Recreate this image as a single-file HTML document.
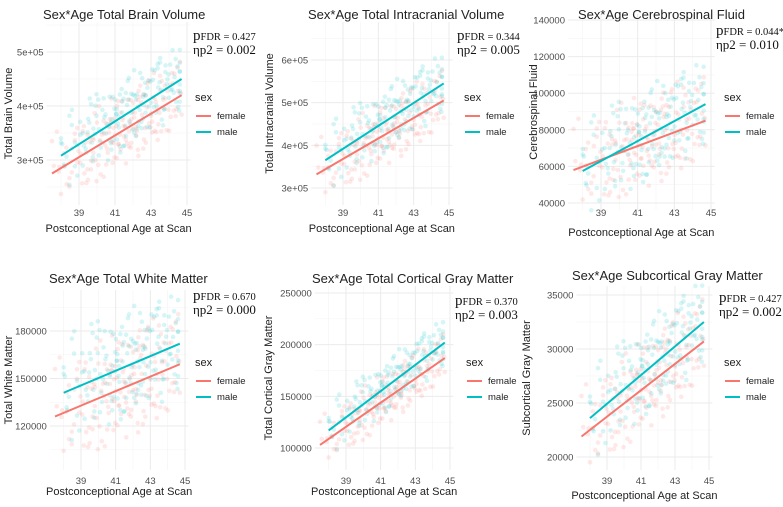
<!DOCTYPE html>
<html><head><meta charset="utf-8"><style>
body{margin:0;background:#fff;width:783px;height:502px;overflow:hidden}
svg text{font-family:"Liberation Sans",sans-serif}
.st{font-family:"Liberation Serif",serif}
</style></head><body>
<svg id="c" width="783" height="502"></svg>
<script>
const panelTitles=["Sex*Age Total Brain Volume","Sex*Age Total Intracranial Volume","Sex*Age Cerebrospinal Fluid","Sex*Age Total White Matter","Sex*Age Total Cortical Gray Matter","Sex*Age Subcortical Gray Matter"];
const yTitles=["Total Brain Volume","Total Intracranial Volume","Cerebrospinal Fluid","Total White Matter","Total Cortical Gray Matter","Subcortical Gray Matter"];
const yTickVals=[[300000,400000,500000],[300000,400000,500000,600000],[40000,60000,80000,100000,120000,140000],[120000,150000,180000],[100000,150000,200000,250000],[20000,25000,30000,35000]];
const yTickLabels=[["3e+05","4e+05","5e+05"],["3e+05","4e+05","5e+05","6e+05"],["40000","60000","80000","100000","120000","140000"],["120000","150000","180000"],["100000","150000","200000","250000"],["20000","25000","30000","35000"]];
const xTickVals=[39,41,43,45];
const femaleStart=[275000,332000,58000,126000,103000,21900];
const femaleEnd=[420000,505000,85000,159000,187000,30700];
const maleStart=[308000,365000,57500,141000,117000,23600];
const maleEnd=[450000,545000,94000,172000,202000,32500];
const pFDR=["0.427","0.344","0.044*","0.670","0.370","0.427"];
const eta=["0.002","0.005","0.010","0.000","0.003","0.002"];
const spread=[40000,45000,15000,20000,15000,2500];
// shared residual pattern (age, standardized residual)
const ptAges=[37.6,38.0,38.3,38.6,38.9,39.1,39.3,39.6,39.8,40.0,40.2,40.4,40.6,40.8,41.0,41.1,41.3,41.5,41.7,41.9,42.1,42.3,42.5,42.7,42.9,43.1,43.3,43.5,43.7,43.9,44.1,44.3,44.5,39.5,40.5,41.6,42.4,43.2,40.9,42.0];
const ptRes=[0.3,-1.2,0.8,-0.5,1.4,0.1,-0.9,0.6,-0.2,1.1,-1.4,0.4,-0.6,1.8,0.0,-1.1,0.9,-0.3,1.3,-0.8,0.5,-1.6,0.2,1.0,-0.4,0.7,-1.0,1.5,-0.1,0.6,-0.7,1.2,0.3,-1.3,0.8,-0.5,1.6,-0.9,0.4,-0.2];
const L=[
 {x39:79,x45:187,v1:300000,p1:160,v2:500000,p2:52,top:22,bot:205,tx:43,ty:19,px:193,py:40,lx:195,ly:101,xl:216,xt:232,yt:12},
 {x39:343,x45:449,v1:300000,p1:188,v2:600000,p2:60,top:22,bot:205,tx:308,ty:19,px:457,py:40,lx:464,ly:101,xl:216,xt:232,yt:273},
 {x39:601,x45:711,v1:40000,p1:203,v2:140000,p2:20,top:14,bot:210,tx:578,ty:19,px:716,py:35,lx:724,ly:101,xl:216,xt:236,yt:537},
 {x39:81,x45:185,v1:120000,p1:426,v2:180000,p2:331,top:290,bot:470,tx:49,ty:283,px:193,py:300,lx:195,ly:366,xl:484,xt:495,yt:12},
 {x39:346,x45:450,v1:100000,p1:448,v2:250000,p2:293,top:286,bot:470,tx:312,ty:283,px:455,py:305,lx:466,ly:366,xl:484,xt:495,yt:272},
 {x39:607,x45:709,v1:20000,p1:457,v2:35000,p2:295,top:286,bot:470,tx:572,ty:280,px:719,py:302,lx:724,ly:366,xl:484,xt:499,yt:530}
];
const passes=[[0,0],[0.17,13],[-0.13,27],[0.31,5]];
const NS="http://www.w3.org/2000/svg";
const svg=document.getElementById('c');
function mk(t,a,p,txt){const e=document.createElementNS(NS,t);for(const k in a)e.setAttribute(k,a[k]);if(txt!==undefined)e.textContent=txt;(p||svg).appendChild(e);return e;}
L.forEach((c,i)=>{
 const g=mk('g',{});
 
 
 const xs=a=>c.x39+(a-39)*(c.x45-c.x39)/6;
 const ys=v=>c.p1+(v-c.v1)*(c.p2-c.p1)/(c.v2-c.v1);
 const x0=xs(37.2),x1=xs(45.2);
 [38,40,42,44].forEach(a=>mk('line',{x1:xs(a),x2:xs(a),y1:c.top,y2:c.bot,stroke:'#f4f4f4','stroke-width':0.6},g));
 const yv=yTickVals[i],st=yv[1]-yv[0];
 for(let v=yv[0]-st/2;v<=yv[yv.length-1]+st/2;v+=st){const y=ys(v);if(y>c.top&&y<c.bot)mk('line',{x1:x0,x2:x1,y1:y,y2:y,stroke:'#f4f4f4','stroke-width':0.6},g);}
 xTickVals.forEach(a=>{mk('line',{x1:xs(a),x2:xs(a),y1:c.top,y2:c.bot,stroke:'#ebebeb','stroke-width':1},g);
  const t=mk('text',{x:xs(a),y:c.xl,'font-size':9.5,fill:'#4d4d4d','text-anchor':'middle'},g,a);
  });
 yv.forEach((v,j)=>{const y=ys(v);mk('line',{x1:x0,x2:x1,y1:y,y2:y,stroke:'#ebebeb','stroke-width':1},g);
  const t=mk('text',{x:x0-3,y:y+3.5,'font-size':9.5,fill:'#4d4d4d','text-anchor':'end'},g,yTickLabels[i][j]);
  });
 passes.forEach(([da,ro])=>{
 ptAges.forEach((a0,k)=>{
  const a=Math.max(37.5,Math.min(44.7,a0+da));
  const fm=femaleStart[i]+(femaleEnd[i]-femaleStart[i])*(a-37.5)/7.2;
  const p1=mk('circle',{cx:xs(a),cy:ys(fm+ptRes[(k+ro)%ptRes.length]*spread[i]),r:2.3,fill:'#F8766D','fill-opacity':0.16},g);
  
  const a2=Math.max(38,Math.min(44.6,a+0.3));
  const ml=maleStart[i]+(maleEnd[i]-maleStart[i])*(a2-38)/6.7;
  const p2=mk('circle',{cx:xs(a2),cy:ys(ml+ptRes[(k+ro+7)%ptRes.length]*spread[i]),r:2.3,fill:'#00BFC4','fill-opacity':0.16},g);
  
 });});
 const fl=mk('line',{x1:xs(37.5),y1:ys(femaleStart[i]),x2:xs(44.7),y2:ys(femaleEnd[i]),stroke:'#F8766D','stroke-width':2},g);
 
 const ml=mk('line',{x1:xs(38),y1:ys(maleStart[i]),x2:xs(44.7),y2:ys(maleEnd[i]),stroke:'#00BFC4','stroke-width':2},g);
 
 const tt=mk('text',{x:c.tx,y:c.ty,'font-size':13,fill:'#222'},g,panelTitles[i]);
 
 const xt=mk('text',{x:(x0+x1)/2,y:c.xt,'font-size':11,fill:'#222','text-anchor':'middle'},g,'Postconceptional Age at Scan');
 
 const ymid=(c.top+c.bot)/2;
 const yt=mk('text',{x:0,y:0,'font-size':11,fill:'#222','text-anchor':'middle',transform:`translate(${c.yt},${ymid}) rotate(-90)`},g,yTitles[i]);
 
 const s1=mk('text',{x:c.px,y:c.py,'font-size':15,fill:'#111',class:'st'},g);
 
 mk('tspan',{},s1,'p');mk('tspan',{'font-size':10.5},s1,'FDR = '+pFDR[i]);
 const s2=mk('text',{x:c.px,y:c.py+14,'font-size':13,fill:'#111',class:'st'},g,'ηp2 = '+eta[i]);
 
 const lg=mk('g',{},g);
 
 mk('text',{x:c.lx,y:c.ly,'font-size':11,fill:'#222'},lg,'sex');
 [['female','#F8766D',18],['male','#00BFC4',34]].forEach(([n,col,dy])=>{
  const e=mk('g',{},lg);
  
  mk('line',{x1:c.lx+1,x2:c.lx+16,y1:c.ly+dy-3,y2:c.ly+dy-3,stroke:col,'stroke-width':2},e);
  mk('text',{x:c.lx+22,y:c.ly+dy,'font-size':9.5,fill:'#222'},e,n);
 });
});
</script>
</body></html>
